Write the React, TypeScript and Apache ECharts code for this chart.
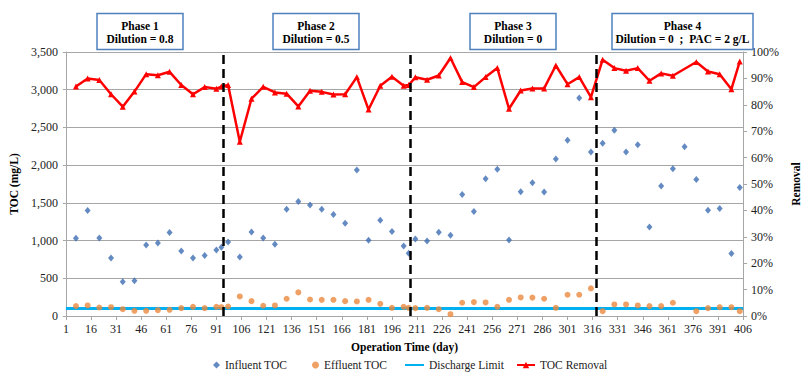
import React, { useEffect, useRef } from "react";
import * as echarts from "echarts";

const days = [7, 14, 21, 28, 35, 42, 49, 56, 63, 70, 77, 84, 91, 94, 98, 105, 112, 119, 126, 133, 140, 147, 154, 161, 168, 175, 182, 189, 196, 203, 206, 210, 217, 224, 231, 238, 245, 252, 259, 266, 273, 280, 287, 294, 301, 308, 315, 322, 329, 336, 343, 350, 357, 364, 371, 378, 385, 392, 399, 404];

const influentTOC = [1030, 1400, 1035, 770, 455, 468, 942, 968, 1107, 862, 770, 801, 875, 911, 982, 782, 1115, 1035, 951, 1416, 1519, 1470, 1416, 1346, 1230, 1935, 1004, 1270, 1120, 928, 831, 1021, 995, 1111, 1071, 1612, 1386, 1819, 1945, 1008, 1647, 1766, 1645, 2080, 2330, 2889, 2175, 2290, 2463, 2175, 2272, 1181, 1722, 1952, 2245, 1811, 1403, 1426, 827, 1705];

const effluentTOC = [131, 140, 113, 117, 90, 69, 69, 77, 82, 104, 122, 104, 122, 117, 126, 259, 197, 136, 140, 229, 313, 219, 215, 215, 197, 193, 215, 162, 109, 122, 109, 104, 109, 90, 24, 176, 184, 180, 122, 215, 246, 244, 229, 109, 282, 282, 366, 64, 153, 153, 140, 131, 131, 176, null, 64, 104, 117, 117, 64];

const tocRemoval = [86.9, 90.0, 89.4, 84.0, 79.3, 85.0, 91.6, 91.2, 92.5, 87.5, 84.0, 86.7, 86.1, 86.9, 87.5, 66.0, 82.3, 86.8, 84.7, 84.2, 79.4, 85.3, 84.9, 83.9, 84.0, 90.5, 78.2, 87.2, 90.6, 87.2, 87.5, 90.4, 89.5, 91.1, 97.7, 88.6, 86.7, 90.5, 93.9, 78.5, 85.4, 86.2, 86.2, 94.9, 87.8, 90.5, 82.9, 97.1, 93.9, 92.9, 93.9, 89.1, 91.9, 91.0, null, 96.2, 92.6, 91.6, 85.9, 96.4];

const dischargeLimitDays = [1, 406];
const dischargeLimit = [100, 100];

const phaseBoundaries = [95, 207, 318];

const xTickLabels = [1, 16, 31, 46, 61, 76, 91, 106, 121, 136, 151, 166, 181, 196, 211, 226, 241, 256, 271, 286, 301, 316, 331, 346, 361, 376, 391, 406];

const phaseTitles = ["Phase 1", "Phase 2", "Phase 3", "Phase 4"];
const phaseSubtitles = ["Dilution = 0.8", "Dilution = 0.5", "Dilution = 0", "Dilution = 0  ;  PAC = 2 g/L"];

const FONT = "Liberation Serif, Times New Roman, DejaVu Serif, serif";

export default function App() {
  const ref = useRef<HTMLDivElement>(null);

  useEffect(() => {
    if (!ref.current) return;
    const chart = echarts.init(ref.current, undefined, { renderer: "svg" });

    const boxes = [
      { x: 97, w: 86 },
      { x: 273, w: 86 },
      { x: 470, w: 86 },
      { x: 612, w: 141 },
    ];

    const graphics: any[] = [];
    boxes.forEach((b, i) => {
      graphics.push({
        type: "rect",
        shape: { x: b.x, y: 13.5, width: b.w, height: 36 },
        style: { fill: "#fff", stroke: "#4F81BD", lineWidth: 1.5 },
        z: 100,
      });
      [phaseTitles[i], phaseSubtitles[i]].forEach((t, k) => {
        graphics.push({
          type: "text",
          x: b.x + b.w / 2,
          y: k === 0 ? 25.5 : 38.5,
          style: {
            text: t,
            fill: "#000",
            fontFamily: FONT,
            fontSize: 11.5,
            fontWeight: "bold",
            textAlign: "center",
            textVerticalAlign: "middle",
          },
          z: 101,
        });
      });
    });

    const pair = (xs: number[], ys: (number | null)[]) => xs.map((d, i) => [d, ys[i]]);

    const legendText = { fontFamily: FONT, fontSize: 11.5, color: "#222" };
    const mkLegend = (name: string, left: number, w: number, h: number, extra: any = {}) => ({
      top: 359,
      left,
      padding: 0,
      itemWidth: w,
      itemHeight: h,
      textStyle: legendText,
      data: [{ name, ...extra }],
    });

    chart.setOption({
      animation: false,
      backgroundColor: "#fff",
      textStyle: { fontFamily: FONT },
      grid: { left: 62, top: 52, width: 691, height: 264 },
      legend: [
        mkLegend("Influent TOC", 213, 7, 7),
        mkLegend("Effluent TOC", 312, 7, 7),
        mkLegend("Discharge Limit", 404, 19, 8, { itemStyle: { opacity: 0 } }),
        mkLegend("TOC Removal", 516, 18, 8),
      ],
      xAxis: {
        type: "value",
        min: 1,
        max: 406,
        interval: 15,
        name: "Operation Time (day)",
        nameLocation: "middle",
        nameGap: 25,
        nameTextStyle: { fontFamily: FONT, fontSize: 11.5, fontWeight: "bold", color: "#000" },
        axisLine: { show: true, lineStyle: { color: "#A6A6A6", width: 1 } },
        axisTick: { show: true, length: 4, lineStyle: { color: "#A6A6A6" }, customValues: xTickLabels },
        axisLabel: { fontFamily: FONT, fontSize: 12, color: "#222", margin: 7, customValues: xTickLabels },
        splitLine: { show: false },
      },
      yAxis: [
        {
          type: "value",
          min: 0,
          max: 3500,
          interval: 500,
          name: "TOC (mg/L)",
          nameLocation: "middle",
          nameRotate: 90,
          nameGap: 42,
          nameTextStyle: { fontFamily: FONT, fontSize: 11.5, fontWeight: "bold", color: "#000" },
          axisLine: { show: true, lineStyle: { color: "#A6A6A6", width: 1 } },
          axisTick: { show: true, length: 3, lineStyle: { color: "#A6A6A6" } },
          axisLabel: {
            fontFamily: FONT,
            fontSize: 12,
            color: "#222",
            margin: 8,
            formatter: (v: number) => v.toLocaleString("en-US"),
          },
          splitLine: { show: true, lineStyle: { color: "#A6A6A6", width: 1 } },
        },
        {
          type: "value",
          min: 0,
          max: 100,
          interval: 10,
          position: "right",
          name: "Removal",
          nameLocation: "middle",
          nameRotate: 90,
          nameGap: 40,
          nameTextStyle: { fontFamily: FONT, fontSize: 11.5, fontWeight: "bold", color: "#000" },
          axisLine: { show: true, lineStyle: { color: "#A6A6A6", width: 1 } },
          axisTick: { show: true, length: 4, lineStyle: { color: "#A6A6A6" } },
          axisLabel: { fontFamily: FONT, fontSize: 12, color: "#222", margin: 8, formatter: "{value}%" },
          splitLine: { show: false },
        },
      ],
      series: [
        {
          name: "Influent TOC",
          type: "scatter",
          symbol: "diamond",
          symbolSize: [6, 7],
          itemStyle: { color: "#3D6DB3" },
          data: pair(days, influentTOC),
          z: 3,
        },
        {
          name: "Effluent TOC",
          type: "scatter",
          symbol: "circle",
          symbolSize: 6,
          itemStyle: { color: "#EB8A3F" },
          data: pair(days, effluentTOC).filter((p) => p[1] !== null),
          z: 3,
        },
        {
          name: "Discharge Limit",
          type: "line",
          symbol: "none",
          lineStyle: { color: "#00B0F0", width: 3 },
          itemStyle: { color: "#00B0F0" },
          data: pair(dischargeLimitDays, dischargeLimit),
          z: 2,
          markLine: {
            silent: true,
            symbol: "none",
            label: { show: false },
            lineStyle: { color: "#000", width: 2.5, type: [9, 5] },
            data: phaseBoundaries.map((d) => ({ xAxis: d })),
            z: 5,
          },
        },
        {
          name: "TOC Removal",
          type: "line",
          yAxisIndex: 1,
          symbol: "triangle",
          symbolSize: 6,
          connectNulls: true,
          lineStyle: { color: "#FF0000", width: 2.5 },
          itemStyle: { color: "#FF0000" },
          data: pair(days, tocRemoval),
          z: 4,
        },
      ],
      graphic: graphics,
    });

    return () => chart.dispose();
  }, []);

  return (
    <div
      ref={ref}
      style={{ position: "fixed", left: 0, top: 0, width: 810, height: 379 }}
    />
  );
}
